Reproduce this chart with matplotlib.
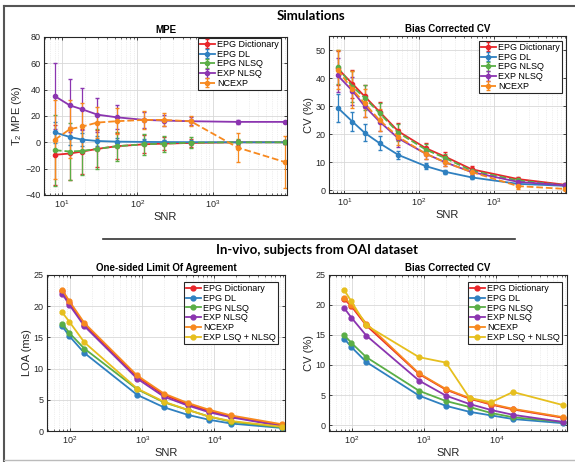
import numpy as np
import matplotlib
matplotlib.use("Agg")
import matplotlib.pyplot as plt
from matplotlib.lines import Line2D
from matplotlib.ticker import LogLocator, NullFormatter

plt.rcParams['font.family'] = ['Liberation Sans', 'DejaVu Sans']
plt.rcParams['mathtext.fontset'] = 'custom'
plt.rcParams['mathtext.rm'] = 'Liberation Sans'

# simulation SNR levels
snr_sim = [8.1, 12.8, 18.7, 29.6, 53, 124, 224, 509, 2135, 9000]

# MPE (%) mean and std per method
mpe = {
    'EPG Dictionary': ([-9.5, -8.5, -7, -5, -3, -1.5, -1, -0.5, 0, 0],
                       [23, 20, 17, 14, 10, 7, 5, 3, 2, 1]),
    'EPG DL': ([7.5, 4, 2, 1, 0.5, 0.3, 0.2, 0.1, 0, 0],
               [8, 6, 5, 4, 3, 2, 1.5, 1, 0.5, 0.3]),
    'EPG NLSQ': ([-6, -7, -6.5, -5, -3, -1.5, -1, -0.3, 0, 0],
                 [27, 22, 18, 15, 11, 8, 6, 4, 2.5, 1.5]),
    'EXP NLSQ': ([35, 28, 25, 21, 19, 17, 16.5, 16, 15.5, 15.5],
                 [25, 20, 16, 13, 9, 6, 4.5, 3, 1.5, 1]),
    'NCEXP': ([2, 10, 12, 15, 16, 17, 17, 16, -4, -15],
              [30, 22, 18, 12, 10, 7, 5, 4, 11, 20]),
}

# bias corrected CV (%) in simulations
cv_sim = {
    'EPG Dictionary': ([43.5, 38, 33.5, 28, 21, 15, 12, 7.5, 4, 2],
                       [6, 5, 4, 3.5, 3, 2, 1.5, 1, 0.7, 0.5]),
    'EPG DL': ([29.5, 24.5, 20.5, 16.8, 12.6, 8.6, 6.6, 4.6, 2.3, 1.6],
               [5, 3.5, 3, 2.5, 1.5, 1, 0.8, 0.5, 0.4, 0.3]),
    'EPG NLSQ': ([44, 37, 33, 27.5, 20.5, 14.5, 11.5, 7, 3.5, 1.8],
                 [6, 5.5, 4.5, 3.5, 3, 2, 1.5, 1, 0.7, 0.5]),
    'EXP NLSQ': ([41, 35.5, 30, 24.5, 18.5, 13, 10, 6.5, 3, 1.8],
                 [6, 5, 4, 3.5, 3, 2, 1.5, 1, 0.7, 0.5]),
    'NCEXP': ([43, 36, 31, 25, 19, 13, 10, 6.5, 1.5, 0.5],
              [7, 6.5, 5, 4, 3, 2, 1.5, 1, 1, 0.5]),
}

# in-vivo SNR levels
snr_vivo = [78, 98, 158, 850, 2000, 4250, 8500, 17000, 85000]

loa = {
    'EPG Dictionary': [22.5, 20.5, 17, 8.7, 5.8, 4.3, 3.2, 2.3, 0.9],
    'EPG DL': [16.8, 15.2, 12.5, 5.8, 3.8, 2.6, 1.8, 1.2, 0.5],
    'EPG NLSQ': [17.2, 15.7, 13.2, 6.7, 4.6, 3.4, 2.3, 1.5, 0.6],
    'EXP NLSQ': [22, 20.2, 16.8, 8.4, 5.5, 4.1, 3, 2.2, 0.8],
    'NCEXP': [22.6, 20.8, 17.3, 8.9, 6, 4.5, 3.4, 2.5, 1.1],
    'EXP LSQ + NLSQ': [19, 17.5, 14.2, 6.8, 4.7, 3.4, 2.3, 1.6, 0.7],
}

cv_vivo = {
    'EPG Dictionary': [21, 19.8, 16.6, 8.5, 5.9, 4.4, 3.4, 2.6, 1.2],
    'EPG DL': [14.4, 13, 10.5, 4.9, 3.2, 2.2, 1.6, 1, 0.3],
    'EPG NLSQ': [15, 13.7, 11.3, 5.7, 4, 3, 2, 1.3, 0.5],
    'EXP NLSQ': [19.5, 17.9, 14.9, 7.4, 4.9, 3.5, 2.5, 1.7, 0.5],
    'NCEXP': [21.2, 20, 16.9, 8.6, 6, 4.5, 3.5, 2.7, 1.3],
    'EXP LSQ + NLSQ': [22.5, 20.6, 16.6, 11.3, 10.4, 4.5, 3.8, 5.5, 3.3],
}

colors = {
    'EPG Dictionary': '#e8262a',
    'EPG DL': '#2f80c0',
    'EPG NLSQ': '#5aae46',
    'EXP NLSQ': '#8b35b0',
    'NCEXP': '#f7891f',
    'EXP LSQ + NLSQ': '#e6bf1e',
}
dashed = ['EPG NLSQ', 'NCEXP']

fig = plt.figure(figsize=(5.75, 4.62), dpi=100)
fig.patch.set_facecolor('white')


def style_axes(ax, xlim, ylim, yticks):
    ax.set_xscale('log')
    ax.set_xlim(*xlim)
    ax.set_ylim(*ylim)
    ax.set_yticks(yticks)
    ax.xaxis.set_minor_locator(LogLocator(base=10, subs=np.arange(2, 10), numticks=20))
    ax.xaxis.set_minor_formatter(NullFormatter())
    ax.tick_params(which='both', direction='in', top=True, right=True,
                   labelsize=6.5, colors='#262626', pad=2.5)
    ax.tick_params(which='major', length=2.5, width=0.6)
    ax.tick_params(which='minor', length=1.5, width=0.5)
    ax.grid(which='major', color='#d8d8d8', lw=0.6)
    ax.grid(which='minor', axis='x', color='#e0e0e0', lw=0.5, ls=':')
    ax.set_axisbelow(True)
    for s in ax.spines.values():
        s.set_color('#262626')
        s.set_linewidth(0.8)
    ax.set_xlabel('SNR', fontsize=8, color='#262626', labelpad=1)


def add_legend(ax, anchor):
    leg = ax.legend(loc='upper right', bbox_to_anchor=anchor, fontsize=6.5,
                    frameon=True, fancybox=False, edgecolor='#262626',
                    framealpha=1, borderpad=0.25, labelspacing=0.08,
                    handlelength=1.6, handletextpad=0.25, borderaxespad=0)
    leg.get_frame().set_linewidth(0.8)


# simulations: MPE
ax1 = fig.add_axes([0.0765, 0.578, 0.4226, 0.342])
for name, (m, s) in mpe.items():
    ax1.errorbar(snr_sim, m, yerr=s, color=colors[name], lw=1.3,
                 ls='--' if name in dashed else '-', marker='o', ms=3,
                 elinewidth=0.9, capsize=1.5, label=name)
style_axes(ax1, (5.8, 9600), (-40, 80), np.arange(-40, 81, 20))
ax1.set_title('MPE', fontsize=7, fontweight='bold', pad=3)
ax1.set_ylabel('T$_2$ MPE (%)', fontsize=8, color='#262626', labelpad=1)
add_legend(ax1, (0.975, 0.995))

# simulations: CV
ax2 = fig.add_axes([0.572, 0.582, 0.412, 0.340])
for name, (m, s) in cv_sim.items():
    ax2.errorbar(snr_sim, m, yerr=s, color=colors[name], lw=1.3,
                 ls='--' if name in dashed else '-', marker='o', ms=3,
                 elinewidth=0.9, capsize=1.5, label=name)
style_axes(ax2, (6.2, 9300), (-1, 55), np.arange(0, 51, 10))
ax2.set_title('Bias Corrected CV', fontsize=7, fontweight='bold', pad=3)
ax2.set_ylabel('CV (%)', fontsize=8, color='#262626', labelpad=1)
add_legend(ax2, (0.983, 0.97))

# in-vivo: one-sided LOA
ax3 = fig.add_axes([0.0817, 0.067, 0.414, 0.338])
for name, vals in loa.items():
    ax3.plot(snr_vivo, vals, color=colors[name], lw=1.3, marker='o', ms=3.5, label=name)
style_axes(ax3, (48, 95000), (0, 25), np.arange(0, 26, 5))
ax3.set_title('One-sided Limit Of Agreement', fontsize=7, fontweight='bold', pad=3)
ax3.set_ylabel('LOA (ms)', fontsize=8, color='#262626', labelpad=1)
add_legend(ax3, (0.97, 0.955))

# in-vivo: CV
ax4 = fig.add_axes([0.572, 0.067, 0.414, 0.338])
for name, vals in cv_vivo.items():
    ax4.plot(snr_vivo, vals, color=colors[name], lw=1.3, marker='o', ms=3.5, label=name)
style_axes(ax4, (48, 95000), (-1, 25), np.arange(0, 26, 5))
ax4.set_title('Bias Corrected CV', fontsize=7, fontweight='bold', pad=3)
ax4.set_ylabel('CV (%)', fontsize=8, color='#262626', labelpad=1)
add_legend(ax4, (0.979, 0.955))

# section headings and separators
fig.text(0.541, 0.965, 'Simulations', ha='center', va='center',
         fontsize=9.5, fontweight='bold', family=['Lato', 'DejaVu Sans'])
fig.text(0.551, 0.459, 'In-vivo, subjects from OAI dataset', ha='center', va='center',
         fontsize=9.5, fontweight='bold', family=['Lato', 'DejaVu Sans'])
fig.add_artist(Line2D([103 / 575, 515 / 575], [1 - 239 / 462] * 2, color='#333333', lw=1.2))

# outer frame
fig.add_artist(Line2D([4 / 575, 1], [1 - 6 / 462] * 2, color='#555555', lw=1.5))
fig.add_artist(Line2D([4 / 575] * 2, [0, 1 - 6 / 462], color='#555555', lw=1.5))
fig.add_artist(Line2D([4 / 575, 1], [1 - 460 / 462] * 2, color='#bbbbbb', lw=1.0))

fig.savefig('out.png', dpi=100)
